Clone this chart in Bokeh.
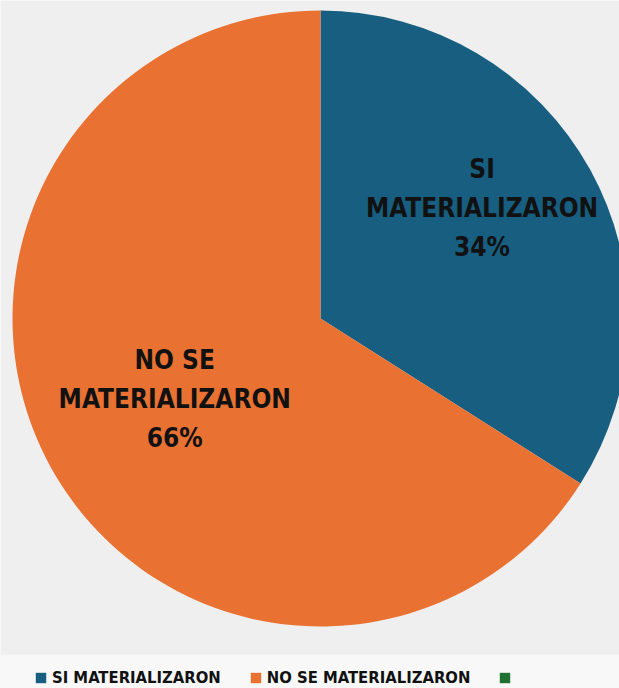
import math
from bokeh.plotting import figure
from bokeh.models import Range1d, ColumnDataSource, Legend, LegendItem
from bokeh.core.properties import value
from bokeh.embed import file_html
from bokeh.resources import INLINE

categories = ["SI MATERIALIZARON", "NO SE MATERIALIZARON", ""]
percents = [34, 66, 0]
colors = ["#175e80", "#e97132", "#1e7130"]
slice_labels = ["SI\nMATERIALIZARON\n34%", "NO SE\nMATERIALIZARON\n66%", ""]

FONT = "'DejaVu Sans Condensed', 'Roboto', sans-serif"

W, H = 619, 688
cx, cy, R = 320, H - 318, 308

total = sum(percents)
starts, ends, mids = [], [], []
a = math.pi / 2
for v in percents:
    sweep = 2 * math.pi * v / total
    ends.append(a)
    starts.append(a - sweep)
    mids.append(a - sweep / 2)
    a -= sweep

# label placement (best-fit style): radius fraction and angular nudge
frac = [0.635, 0.54, 0.6]
nudge = [math.radians(5.5), 0.0, 0.0]
lx = [cx + R * f * math.cos(m + n) for f, m, n in zip(frac, mids, nudge)]
ly = [cy + R * f * math.sin(m + n) for f, m, n in zip(frac, mids, nudge)]

keep = [i for i, v in enumerate(percents) if v > 0]
src = ColumnDataSource(dict(
    start=[starts[i] for i in keep], end=[ends[i] for i in keep],
    color=[colors[i] for i in keep], lx=[lx[i] for i in keep],
    ly=[ly[i] for i in keep], lab=[slice_labels[i] for i in keep]))

p = figure(width=W, height=H, output_backend="svg", toolbar_location=None,
           x_range=Range1d(0, W), y_range=Range1d(0, H), min_border=0)
p.axis.visible = False
p.grid.visible = False
p.outline_line_color = None
p.background_fill_color = "#efefef"
p.border_fill_color = "#efefef"

# lighter band for legend area
p.quad(left=0, right=W, bottom=0, top=34, fill_color="#f8f8f8", line_color=None)

p.wedge(x=cx, y=cy, radius=R, start_angle="start", end_angle="end",
        fill_color="color", line_color=None, source=src)

p.text(x="lx", y="ly", text="lab", source=src, text_align="center",
       text_baseline="middle", text_font=value(FONT),
       text_font_style="bold", text_font_size="26px", text_line_height=1.3,
       text_color="#111111")

items = []
for i, c in enumerate(categories):
    rr = p.quad(left=[-100], right=[-90], bottom=[-100], top=[-90],
                fill_color=colors[i], line_color=None)
    items.append(LegendItem(label=c if c else " ", renderers=[rr]))

legend = Legend(items=items, orientation="horizontal", location=(34, 1),
                background_fill_alpha=0, border_line_color=None,
                label_text_font=FONT, label_text_font_style="bold",
                label_text_font_size="16.5px", label_text_color="#111111",
                glyph_width=13, glyph_height=13, spacing=28, label_standoff=5,
                padding=3, margin=0, label_height=20)
p.add_layout(legend, "center")

open("out.html", "w").write(file_html(p, INLINE))
